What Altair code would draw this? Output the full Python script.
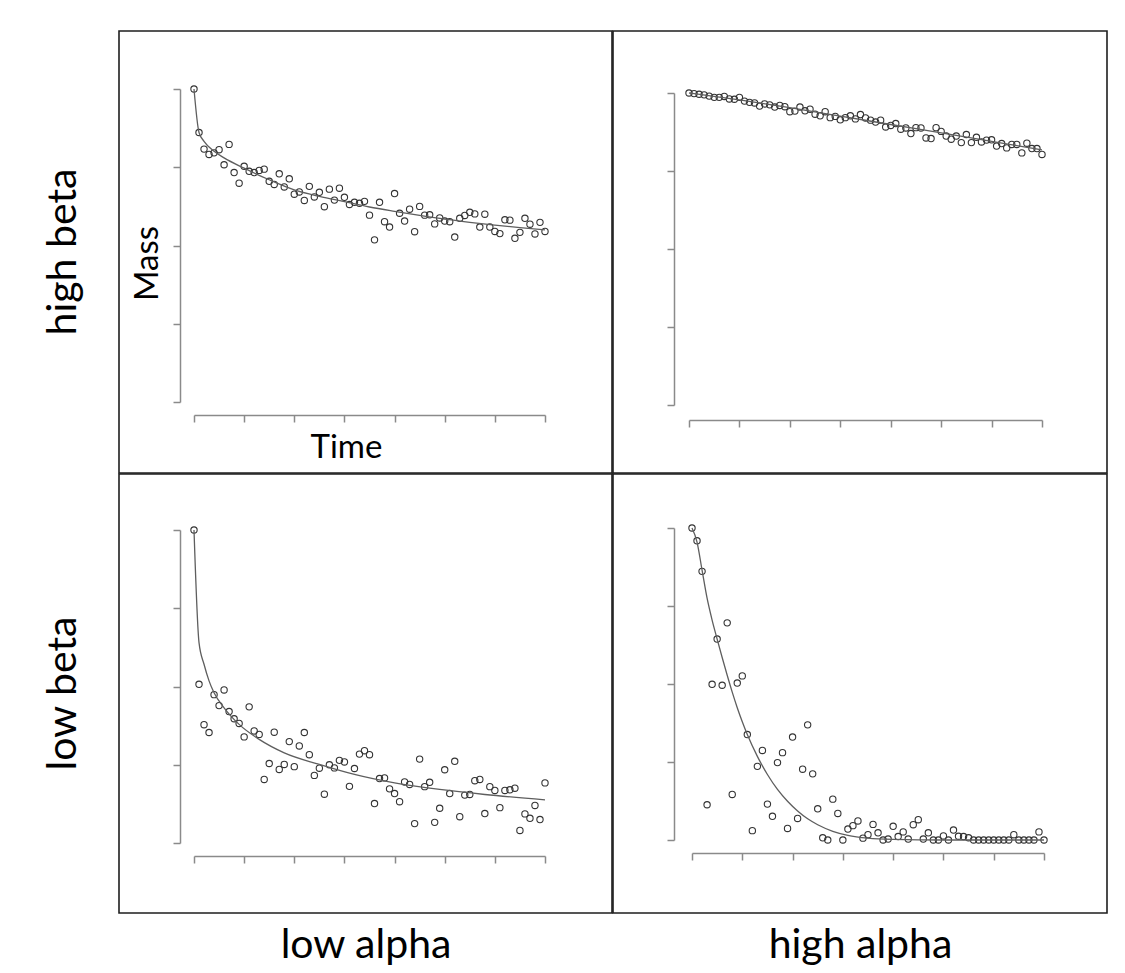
import altair as alt
import pandas as pd

# ---------------- data ----------------
time_pts = list(range(71))

# high beta / low alpha (top-left)
hb_la_mass = [1.0, 0.861, 0.808, 0.791, 0.796, 0.806, 0.758, 0.823, 0.733, 0.699,
              0.753, 0.737, 0.733, 0.740, 0.744, 0.705, 0.695, 0.729, 0.687, 0.713,
              0.664, 0.671, 0.644, 0.689, 0.655, 0.670, 0.624, 0.680, 0.645, 0.683,
              0.654, 0.631, 0.638, 0.635, 0.641, 0.597, 0.518, 0.638, 0.576, 0.559,
              0.666, 0.603, 0.578, 0.616, 0.544, 0.625, 0.597, 0.598, 0.569, 0.588,
              0.578, 0.576, 0.527, 0.587, 0.596, 0.606, 0.601, 0.559, 0.600, 0.559,
              0.545, 0.538, 0.582, 0.581, 0.523, 0.542, 0.587, 0.568, 0.537, 0.574,
              0.545]
hb_la_fit_t = [0, 1, 2, 4, 6, 10, 15, 20, 25, 30, 35, 40, 45, 50, 55, 60, 65, 70]
hb_la_fit_m = [1.0, 0.861, 0.833, 0.801, 0.780, 0.747, 0.710, 0.678, 0.657, 0.640,
               0.623, 0.609, 0.596, 0.584, 0.574, 0.565, 0.557, 0.550]

# high beta / high alpha (top-right)
hb_ha_mass = [1.0, 0.998, 0.996, 0.994, 0.990, 0.986, 0.986, 0.989, 0.981, 0.980,
              0.986, 0.974, 0.970, 0.968, 0.958, 0.965, 0.962, 0.955, 0.960, 0.956,
              0.940, 0.942, 0.955, 0.943, 0.948, 0.932, 0.927, 0.940, 0.921, 0.925,
              0.914, 0.921, 0.927, 0.917, 0.931, 0.920, 0.913, 0.907, 0.913, 0.891,
              0.896, 0.902, 0.884, 0.888, 0.870, 0.889, 0.888, 0.856, 0.854, 0.889,
              0.877, 0.862, 0.852, 0.862, 0.841, 0.867, 0.841, 0.858, 0.843, 0.849,
              0.850, 0.830, 0.838, 0.824, 0.835, 0.835, 0.808, 0.839, 0.822, 0.822,
              0.803]
hb_ha_fit_t = [0, 10, 20, 30, 40, 50, 60, 70]
hb_ha_fit_m = [1.0, 0.978, 0.953, 0.926, 0.899, 0.872, 0.845, 0.818]

# low beta / low alpha (bottom-left)
lb_la_mass = [1.0, 0.507, 0.378, 0.353, 0.474, 0.439, 0.489, 0.420, 0.397, 0.382,
              0.339, 0.435, 0.358, 0.347, 0.203, 0.254, 0.354, 0.235, 0.251, 0.324,
              0.244, 0.310, 0.353, 0.282, 0.216, 0.239, 0.156, 0.250, 0.240, 0.264,
              0.259, 0.181, 0.238, 0.284, 0.295, 0.282, 0.126, 0.206, 0.208, 0.173,
              0.158, 0.132, 0.195, 0.187, 0.062, 0.268, 0.180, 0.194, 0.066, 0.111,
              0.234, 0.158, 0.261, 0.084, 0.153, 0.155, 0.199, 0.203, 0.094, 0.180,
              0.168, 0.113, 0.168, 0.170, 0.175, 0.040, 0.093, 0.079, 0.120, 0.075,
              0.192]
lb_la_fit_t = [0, 1, 2, 3, 4, 6, 9, 13, 18, 25, 32, 40, 49, 58, 70]
lb_la_fit_m = [1.0, 0.640, 0.571, 0.518, 0.480, 0.432, 0.379, 0.331, 0.288, 0.251,
               0.219, 0.192, 0.171, 0.155, 0.138]

# low beta / high alpha (bottom-right)
lb_ha_mass = [1.0, 0.959, 0.861, 0.113, 0.499, 0.644, 0.496, 0.696, 0.146, 0.503,
              0.526, 0.338, 0.030, 0.236, 0.287, 0.115, 0.076, 0.248, 0.280, 0.037,
              0.330, 0.069, 0.227, 0.369, 0.212, 0.100, 0.007, 0.0, 0.131, 0.085,
              0.0, 0.035, 0.046, 0.061, 0.006, 0.017, 0.050, 0.023, 0.0, 0.003,
              0.044, 0.011, 0.026, 0.003, 0.049, 0.065, 0.003, 0.023, 0.0, 0.0,
              0.013, 0.0, 0.032, 0.012, 0.011, 0.007, 0.0, 0.0, 0.0, 0.0,
              0.0, 0.0, 0.0, 0.0, 0.017, 0.0, 0.0, 0.0, 0.0, 0.026,
              0.0]
lb_ha_fit_t = [0, 1, 2, 3, 4, 5, 6, 7, 8, 9, 10, 11, 13, 15, 17, 19, 21, 23, 25,
               28, 31, 35, 40, 50, 60, 70]
lb_ha_fit_m = [1.0, 0.955, 0.865, 0.775, 0.705, 0.644, 0.585, 0.528, 0.474, 0.424,
               0.379, 0.338, 0.268, 0.210, 0.162, 0.124, 0.093, 0.068, 0.049,
               0.028, 0.015, 0.006, 0.002, 0.0, 0.0, 0.0]

row_labels = ["high beta", "low beta"]
col_labels = ["low alpha", "high alpha"]
x_ticks = [0, 10, 20, 30, 40, 50, 60, 70]
y_ticks = [0, 0.25, 0.5, 0.75, 1.0]

FONT = "Lato"
AXIS_GREY = "#8a8a8a"
COL_LABEL_BASELINE = 956  # page y of column-label baseline
BOX_BOTTOM = 912
FRAME_W = 1.6


def panel(mass, fit_t, fit_m, w, h, xr, yr, xoff, xtitle=None, ytitle=None,
          col_label=None, row_label=None):
    pts = pd.DataFrame({"Time": time_pts, "Mass": mass})
    fit = pd.DataFrame({"Time": fit_t, "Mass": fit_m})

    xaxis_kw = dict(values=x_ticks, labels=False, grid=False,
                    domainColor=AXIS_GREY, domainWidth=1.5,
                    tickColor=AXIS_GREY, tickWidth=1.5, tickSize=7,
                    offset=xoff, titleFont=FONT, titleFontWeight="normal",
                    titleColor="black")
    if xtitle is not None:
        xaxis_kw.update(title=xtitle, titleFontSize=33, titleX=227, titleY=42,
                        titleBaseline="alphabetic", titleAlign="center")
    elif col_label is not None:
        axis_line_y = BOX_BOTTOM + xoff
        xaxis_kw.update(title=col_label, titleFontSize=41, titleX=w / 2,
                        titleY=COL_LABEL_BASELINE - axis_line_y,
                        titleBaseline="alphabetic", titleAlign="center")
    else:
        xaxis_kw.update(title=None)

    yaxis_kw = dict(values=y_ticks, labels=False, grid=False,
                    domainColor=AXIS_GREY, domainWidth=1.5,
                    tickColor=AXIS_GREY, tickWidth=1.5, tickSize=7,
                    offset=-61, titleFont=FONT, titleFontWeight="normal",
                    titleColor="black")
    if ytitle is not None:
        yaxis_kw.update(title=ytitle, titleFontSize=33, titleX=-23, titleY=232,
                        titleBaseline="alphabetic", titleAlign="center",
                        titleAngle=270)
    else:
        yaxis_kw.update(title=None)

    x_enc = alt.X("Time:Q",
                  scale=alt.Scale(domain=[0, 70], range=xr, nice=False, zero=False),
                  axis=alt.Axis(**xaxis_kw))
    y_enc = alt.Y("Mass:Q",
                  scale=alt.Scale(domain=[0, 1], range=yr, nice=False, zero=False),
                  axis=alt.Axis(**yaxis_kw))

    points = alt.Chart(pts).mark_point(
        shape="circle", filled=False, size=40, stroke="#333333",
        strokeWidth=1.1, opacity=1
    ).encode(x=x_enc, y=y_enc)
    line = alt.Chart(fit).mark_line(
        color="#5e5e5e", strokeWidth=1.3, interpolate="monotone"
    ).encode(x=x_enc, y=y_enc)

    props = dict(width=w, height=h)
    if row_label is not None:
        props["title"] = alt.TitleParams(
            row_label, orient="left", frame="group", anchor="middle",
            font=FONT, fontSize=41, fontWeight="normal", color="black",
            offset=34)
    return alt.layer(points, line).properties(**props)


tl = panel(hb_la_mass, hb_la_fit_t, hb_la_fit_m, 493, 442, [75, 426], [371, 58],
           -58, xtitle="Time", ytitle="Mass", row_label=row_labels[0])
tr = panel(hb_ha_mass, hb_ha_fit_t, hb_ha_fit_m, 494, 442, [76, 429], [374, 62],
           -53)
bl = panel(lb_la_mass, lb_la_fit_t, lb_la_fit_m, 493, 439, [75, 426], [369, 56],
           -57, col_label=col_labels[0], row_label=row_labels[1])
br = panel(lb_ha_mass, lb_ha_fit_t, lb_ha_fit_m, 494, 439, [79, 431], [366, 54],
           -60, col_label=col_labels[1])

chart = alt.vconcat(
    alt.hconcat(tl, tr, spacing=-FRAME_W),
    alt.hconcat(bl, br, spacing=-FRAME_W),
    spacing=-FRAME_W,
).properties(
    padding={"left": 34, "top": 22, "right": 5, "bottom": 0},
    background="white",
).configure_view(
    stroke="#1e1e1e", strokeWidth=FRAME_W
)

chart.save("out.html", embed_options={"renderer": "svg", "actions": False})
